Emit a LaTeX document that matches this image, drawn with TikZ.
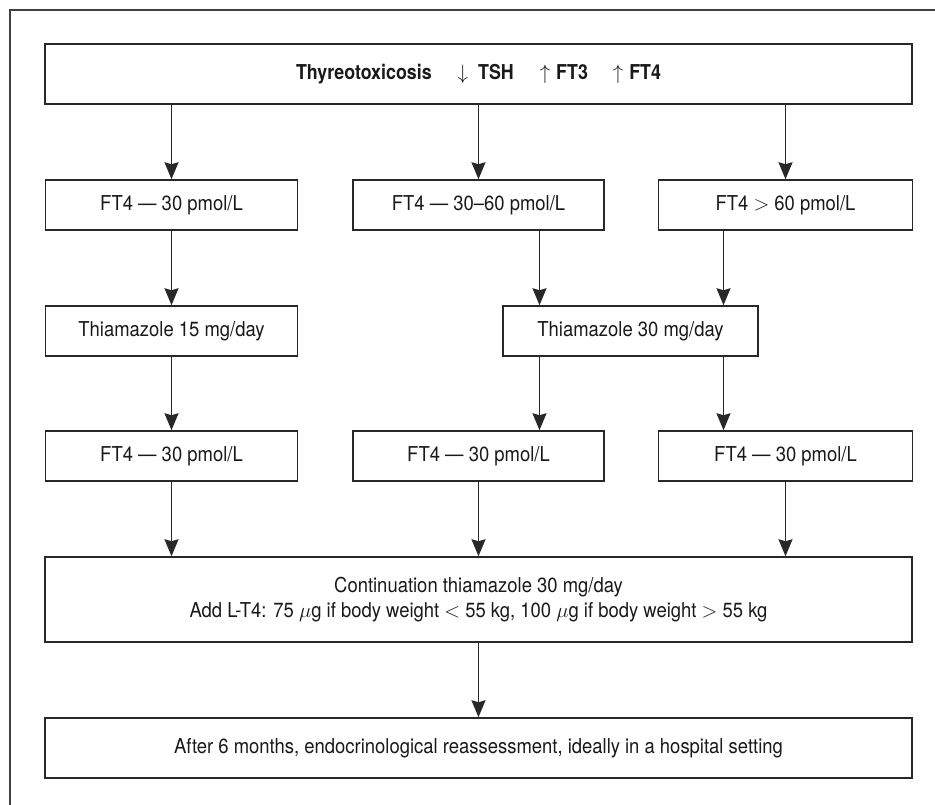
\documentclass[tikz,border=0pt]{standalone}
\usepackage{xcolor}
\usepackage{amsmath, amssymb}
\usepackage{fontspec}
\setmainfont{TeX Gyre Heros}[FakeStretch=0.9, BoldFeatures={FakeStretch=0.87}]
\usepackage{tikz}
\usetikzlibrary{arrows.meta,positioning}
\definecolor{linegray}{RGB}{40,40,40}
\newcommand*{\gap}{\hspace{26pt}}

\begin{document}
\begin{tikzpicture}[ % options of the picture
        x=1pt, y=-1pt, % one unit is one pixel, y runs downwards
        ->, % directed
        >={Stealth[length=17pt,width=14pt,inset=2pt]}, % filled arrow tip
        line width=1.6pt, % connector width
        color=linegray, % connector colour
        font=\fontsize{20.5}{25}\selectfont
      ]
      \tikzstyle{box}=[draw=linegray, line width=1.5pt, text=black!90, inner sep=0pt, align=center, minimum height=50pt]
      \useasboundingbox (0,0) rectangle (935,805); % page size
      \draw[-, line width=1.5pt, draw=black!75] (10,10) rectangle (960,830); % outer frame
      %% node
      \node[box, minimum width=867pt, minimum height=60pt, font=\fontsize{20.5}{25}\selectfont\bfseries] (top) at (478.5,74) {Thyreotoxicosis\gap$\downarrow$\hspace{10pt}TSH\gap$\uparrow$\hspace{6pt}FT3\hspace{25pt}$\uparrow$\hspace{6pt}FT4};
      % first results
      \node[box, minimum width=252pt] (fa) at (171.5,205) {FT4 --- 30 pmol/L};
      \node[box, minimum width=251pt] (fb) at (478.5,205) {FT4 --- 30--60 pmol/L};
      \node[box, minimum width=254pt] (fc) at (785.5,205) {FT4 $>$ 60 pmol/L};
      % treatment
      \node[box, minimum width=252pt] (tlow) at (171.5,331) {Thiamazole 15 mg/day};
      \node[box, minimum width=255pt] (thigh) at (630.5,331) {Thiamazole 30 mg/day};
      % second results
      \node[box, minimum width=252pt] (sa) at (171.5,456) {FT4 --- 30 pmol/L};
      \node[box, minimum width=251pt] (sb) at (478.5,456) {FT4 --- 30 pmol/L};
      \node[box, minimum width=254pt] (sc) at (785.5,456) {FT4 --- 30 pmol/L};
      % continuation
      \node[box, minimum width=867pt, minimum height=85pt] (cont) at (478.5,599.5) {Continuation thiamazole 30 mg/day\\ Add L-T4: 75 $\mu$g if body weight $<$ 55 kg, 100 $\mu$g if body weight $>$ 55 kg};
      \node[box, minimum width=867pt, minimum height=60pt] (after) at (478.5,748) {After 6 months, endocrinological reassessment, ideally in a hospital setting};
      \coordinate (tl) at ([xshift=-91pt]thigh.north); % left entry
      \coordinate (tr) at ([xshift=93pt]thigh.north); % right entry
      %% path
      \draw (top.south -| fa.north) -- (fa);
      \draw (top.south -| fb.north) -- (fb);
      \draw (top.south -| fc.north) -- (fc);
      \draw (fa) -- (tlow);
      \draw (tl |- fb.south) -- (tl);
      \draw (tr |- fc.south) -- (tr);
      \draw (tlow) -- (sa);
      \draw (tl |- thigh.south) -- (tl |- sb.north);
      \draw (tr |- thigh.south) -- (tr |- sc.north);
      \draw (sa) -- (sa.south |- cont.north);
      \draw (sb) -- (sb.south |- cont.north);
      \draw (sc) -- (sc.south |- cont.north);
      \draw (cont) -- (after);
\end{tikzpicture}
\end{document}
